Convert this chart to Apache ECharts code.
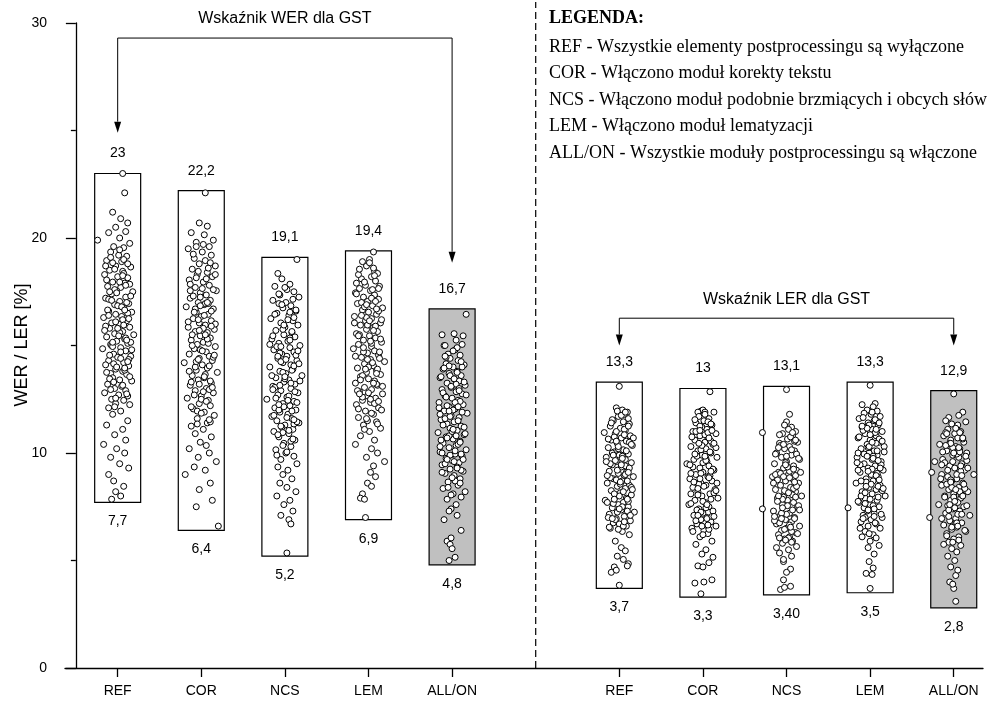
<!DOCTYPE html>
<html>
<head>
<meta charset="utf-8">
<script src="https://cdn.jsdelivr.net/npm/echarts@6/dist/echarts.min.js"></script>
<style>
  html, body { margin: 0; padding: 0; background: #fff; }
  #chart { width: 993px; height: 704px; }
</style>
</head>
<body>
<div id="chart"></div>
<script>
// Variants of the post-processing pipeline
const categories = ['REF', 'COR', 'NCS', 'LEM', 'ALL/ON'];

// Axis positions of the two groups (WER on the left, LER on the right)
const werPos = [0.5, 1.5, 2.5, 3.5, 4.5];
const lerPos = [6.5, 7.5, 8.5, 9.5, 10.5];
const dividerPos = 5.5;

// Range of each variant (min / max)
const werMin = [7.7, 6.4, 5.2, 6.9, 4.8];
const werMax = [23, 22.2, 19.1, 19.4, 16.7];
const lerMin = [3.7, 3.3, 3.4, 3.5, 2.8];
const lerMax = [13.3, 13, 13.1, 13.3, 12.9];
const werMinText = ['7,7', '6,4', '5,2', '6,9', '4,8'];
const werMaxText = ['23', '22,2', '19,1', '19,4', '16,7'];
const lerMinText = ['3,7', '3,3', '3,40', '3,5', '2,8'];
const lerMaxText = ['13,3', '13', '13,1', '13,3', '12,9'];

// Individual results: [horizontal jitter, value]
const werRef = [[.05,23.0],[.07,22.1],[-.05,21.2],[.03,20.9],[.10,20.7],[-.02,20.5],[.08,20.3],[-.09,20.25],[.02,20.0],[-.2,19.9],
[.12,19.75],[-.04,19.6],[.06,19.55],[-.07,19.35],[.01,19.2],[.09,19.15],[-.11,18.95],[.04,18.9],[-.02,18.7],[.13,18.65],
[-.08,18.5],[.05,18.45],[-.13,18.3],[0,18.2],[.10,18.15],[-.05,17.95],[.07,17.9],[-.10,17.75],[.03,17.7],[-.01,17.55],
[.15,17.5],[-.06,17.4],[.08,17.25],[-.12,17.2],[.02,17.05],[.11,16.95],[-.03,16.9],[.06,16.75],[-.09,16.6],[.14,16.55],
[-.02,16.45],[.04,16.35],[-.14,16.3],[.09,16.15],[-.06,16.05],[.01,16.0],[.12,15.85],[-.08,15.8],[.05,15.65],[-.03,15.55],
[.16,15.5],[-.11,15.4],[.07,15.3],[-.01,15.2],[.10,15.1],[-.07,15.05],[.03,14.9],[-.15,14.85],[.08,14.75],[-.04,14.6],
[.13,14.5],[0,14.45],[-.09,14.3],[.06,14.2],[-.12,14.1],[.11,14.05],[-.02,13.9],[.05,13.8],[-.07,13.7],[.09,13.65],
[-.05,13.5],[.02,13.4],[.14,13.35],[-.10,13.2],[.04,13.1],[-.03,13.0],[.08,12.9],[-.13,12.8],[.01,12.7],[.10,12.65],
[-.06,12.5],[.06,12.45],[-.02,12.3],[.12,12.25],[-.09,12.1],[.03,11.95],[-.05,11.8],[.10,11.5],[-.11,11.3],[.05,11.1],
[-.03,10.85],[.08,10.6],[-.14,10.4],[-.01,10.2],[.07,10.0],[-.07,9.8],[.02,9.5],[.11,9.3],[-.09,9.0],[-.04,8.7],
[.06,8.45],[-.02,8.2],[.03,8.0],[-.06,7.85],
[.06,18.35],[.12,17.85],[-.03,17.6],[-.09,17.15],[0,16.85],[.10,16.5],[.05,16.2],[-.12,15.9],[.02,15.6],[.08,15.35],
[-.06,15.0],[.03,14.7],[.11,14.35],[-.04,14.15],[.07,13.85],[-.08,13.45],[-.10,16.65],[.13,15.15],[.09,17.0],[-.05,18.85],
[.02,19.45],[-.07,19.1],[.10,18.8],[-.03,18.55],[.05,18.25],[-.11,18.05],[.08,17.8],[-.01,17.45],[.13,17.3],[-.06,17.1],
[.04,16.8],[-.09,16.4],[.11,16.25],[-.02,16.1],[.06,15.95],[-.13,15.7],[.01,15.45],[.09,15.25],[-.05,14.95],[.14,14.8],
[-.08,14.55],[.03,14.4],[-.01,14.0],[.07,13.95],[-.11,13.75],[.12,13.55],[-.04,13.3],[.05,13.15],[-.07,12.95],[.09,12.75],
[-.02,12.55],[.02,17.95],[-.12,18.7],[.07,16.65],[-.05,15.15],[.10,14.25],[0,15.8],[-.08,17.5],[.06,19.0],[-.03,12.15]];

const werCor = [[.04,22.1],[-.02,20.7],[.06,20.55],[-.10,20.25],[.03,20.15],[.12,19.9],[-.05,19.8],[.08,19.6],[-.13,19.5],[.01,19.35],
[.10,19.2],[-.07,19.05],[.04,18.95],[-.02,18.8],[.14,18.7],[-.09,18.55],[.06,18.4],[-.04,18.3],[.11,18.2],[-.12,18.05],
[.02,17.95],[.08,17.8],[-.06,17.7],[.15,17.55],[-.01,17.45],[.05,17.35],[-.11,17.2],[.09,17.1],[-.03,17.0],[.03,16.9],
[-.15,16.8],[.12,16.7],[-.05,16.55],[.07,16.45],[0,16.35],[-.08,16.25],[.10,16.15],[-.02,16.05],[.04,15.95],[-.13,15.85],
[.13,15.75],[-.06,15.65],[.06,15.6],[-.01,15.45],[.09,15.35],[-.10,15.25],[.02,15.15],[-.04,15.05],[.14,14.95],[-.07,14.85],
[.05,14.7],[-.12,14.6],[.08,14.5],[-.02,14.4],[.11,14.3],[-.17,14.2],[.01,14.1],[.06,13.95],[-.05,13.85],[.16,13.75],
[-.09,13.6],[.03,13.5],[-.03,13.4],[.10,13.25],[-.11,13.15],[.05,13.0],[-.06,12.9],[.12,12.8],[0,12.65],[-.14,12.55],
[.07,12.45],[-.02,12.3],[.09,12.2],[-.08,12.05],[.03,11.9],[.13,11.75],[-.04,11.6],[.06,11.4],[-.10,11.25],[.02,11.1],
[-.06,10.9],[.10,10.75],[-.01,10.5],[.05,10.35],[-.12,10.2],[.08,10.0],[-.03,9.8],[.15,9.6],[-.07,9.35],[.04,9.2],
[-.16,9.0],[.09,8.6],[-.02,8.3],[.11,7.8],[-.05,7.5],[.17,6.6],
[.07,18.6],[-.05,18.15],[.01,17.65],[-.08,17.3],[.04,16.95],[.10,16.6],[-.03,16.2],[.02,15.8],[-.09,15.5],[.07,15.1],
[-.01,14.8],[.12,14.45],[-.06,14.0],[.04,13.65],[-.10,13.3],[.08,12.95],[0,12.5],[-.04,11.95],[.09,11.45],[.14,16.0],
[.02,19.7],[-.08,19.25],[.09,18.85],[-.03,18.45],[.05,18.1],[-.11,17.85],[.12,17.6],[-.01,17.25],[.07,16.95],[-.06,16.7],
[.03,16.4],[-.13,16.1],[.10,15.9],[-.02,15.7],[.06,15.3],[-.09,15.0],[.01,14.75],[.13,14.55],[-.05,14.25],[.08,14.05],
[-.12,13.8],[.03,13.55],[-.02,13.2],[.11,13.05],[-.07,12.7],[.05,12.4],[-.10,12.15],[0,11.85],[.08,11.55],[-.04,11.35],
[.14,18.3],[-.07,16.55],[.04,15.5],[-.03,14.35],[.09,13.35],[-.11,17.55],[.02,12.85],[-.05,19.6],[.06,17.0],[-.01,16.85]];

const werNcs = [[.12,19.0],[-.07,18.35],[-.03,18.1],[.05,17.85],[-.10,17.75],[.02,17.6],[.09,17.5],[-.05,17.35],[.14,17.25],[-.12,17.1],
[.01,17.0],[.06,16.85],[-.02,16.75],[.11,16.6],[-.08,16.5],[.04,16.4],[-.14,16.25],[.08,16.15],[-.04,16.05],[.13,15.95],
[0,15.85],[-.09,15.7],[.07,15.6],[-.01,15.5],[.10,15.4],[-.13,15.3],[.03,15.2],[-.06,15.1],[.15,15.0],[.05,14.9],
[-.11,14.8],[.09,14.7],[-.03,14.6],[.02,14.5],[-.07,14.4],[.12,14.3],[-.02,14.2],[.06,14.1],[-.15,14.0],[.08,13.9],
[-.05,13.8],[.01,13.7],[.17,13.6],[-.09,13.5],[.04,13.4],[-.01,13.3],[.10,13.2],[-.12,13.1],[.06,13.0],[-.04,12.9],
[.13,12.8],[-.07,12.7],[.02,12.6],[-.18,12.5],[.09,12.4],[-.02,12.3],[.05,12.2],[-.10,12.1],[.11,12.0],[-.05,11.9],
[.03,11.8],[-.13,11.7],[.07,11.6],[-.08,11.5],[.14,11.4],[0,11.3],[-.03,11.2],[.08,11.1],[-.11,11.0],[.04,10.9],
[-.06,10.75],[.10,10.6],[-.01,10.45],[.06,10.3],[-.09,10.15],[.01,10.0],[.09,9.85],[-.04,9.7],[.12,9.5],[-.07,9.35],
[.03,9.2],[-.02,9.0],[.07,8.8],[-.05,8.6],[.02,8.4],[.11,8.2],[-.08,8.0],[.05,7.8],[-.01,7.6],[.08,7.3],
[-.04,7.1],[.04,6.9],[.06,6.7],[.02,5.35],
[-.06,16.95],[.09,16.3],[-.02,15.75],[.05,15.35],[-.08,14.95],[.11,14.55],[-.04,14.25],[.07,13.85],[0,13.45],[-.10,13.05],
[.04,12.65],[.12,12.35],[-.06,12.0],[.02,11.65],[.09,11.35],[-.02,10.95],[.06,10.55],[-.12,12.95],[.15,13.35],[-.05,14.65],
[0,17.7],[-.06,17.4],[.08,17.15],[-.03,16.9],[.11,16.65],[-.10,16.45],[.03,16.2],[-.01,15.95],[.07,15.65],[-.12,15.45],
[.05,15.25],[-.04,14.95],[.13,14.75],[-.07,14.5],[.01,14.35],[.09,14.05],[-.02,13.75],[-.13,13.6],[.06,13.25],[-.05,13.15],
[.10,12.85],[-.09,12.55],[.03,12.45],[-.01,12.15],[.07,11.95],[-.11,11.75],[.12,11.45],[-.04,11.25],[.04,11.05],[-.07,10.85],
[.08,10.65],[-.02,10.35],[.02,10.05],[-.08,9.9],[.05,16.55],[-.15,15.05],[.14,14.15],[0,13.55],[-.06,12.25],[.09,11.55]];

const werLem = [[.05,19.35],[.01,19.0],[-.02,18.7],[.06,18.45],[.09,18.35],[.03,18.2],[-.07,18.1],[.07,18.0],[-.12,17.9],[-.03,17.8],
[.11,17.75],[-.09,17.65],[.02,17.55],[-.13,17.45],[.06,17.35],[-.05,17.25],[.10,17.15],[-.01,17.05],[-.11,16.95],[.04,16.85],
[.14,16.75],[-.06,16.65],[0,16.55],[.08,16.45],[-.14,16.35],[.03,16.25],[-.03,16.15],[.12,16.05],[-.08,15.95],[.05,15.85],
[-.02,15.75],[.09,15.65],[-.12,15.55],[.01,15.45],[.07,15.35],[-.05,15.25],[.13,15.15],[-.10,15.05],[.03,14.95],[-.15,14.85],
[.06,14.75],[-.01,14.65],[.10,14.55],[-.07,14.45],[.02,14.35],[.16,14.25],[-.04,14.15],[.05,14.05],[-.11,13.95],[.08,13.85],
[-.02,13.75],[.12,13.65],[-.08,13.55],[0,13.45],[.06,13.35],[-.13,13.25],[.09,13.15],[-.04,13.05],[.03,12.95],[-.09,12.85],
[.14,12.75],[-.01,12.65],[.07,12.55],[-.06,12.45],[.02,12.35],[-.12,12.25],[.10,12.1],[-.03,11.95],[.05,11.8],[-.10,11.65],
[.08,11.45],[-.05,11.3],[.12,11.15],[.01,11.0],[-.08,10.8],[.06,10.6],[-.13,10.4],[.03,10.2],[.09,10.0],[-.02,9.8],
[.16,9.6],[.05,9.4],[.02,9.1],[.07,8.9],[-.01,8.6],[.03,8.45],[-.06,8.1],[-.08,7.9],[-.04,7.85],[-.03,7.0],
[.04,17.6],[-.07,17.0],[.10,16.6],[-.02,16.3],[.07,15.9],[-.09,15.5],[.03,15.1],[-.05,14.7],[.11,14.4],[0,14.0],
[-.06,13.6],[.08,13.2],[-.11,12.9],[.02,12.5],[.13,12.0],[-.04,16.8],[.05,18.6],[-.10,18.3],[.09,13.9],[-.01,11.5],
[.01,18.85],[-.09,18.55],[.06,18.25],[-.04,17.95],[.10,17.65],[-.12,17.4],[.03,17.2],[-.02,16.9],[.08,16.7],[-.07,16.4],
[.13,16.2],[-.01,15.95],[.05,15.7],[-.10,15.45],[.02,15.2],[-.05,14.9],[.11,14.7],[-.13,14.5],[.04,14.2],[-.03,13.9],
[.08,13.7],[-.08,13.4],[.14,13.1],[0,12.8],[-.06,12.6],[.06,12.3],[-.10,12.05],[.03,11.85],[-.02,11.6],[.09,11.35],
[-.04,11.1],[.07,17.05],[-.14,16.05],[.12,15.3],[-.01,14.35],[.05,13.25],[-.09,12.75],[.01,16.15],[-.06,18.9],[.10,12.4]];

const werAll = [[.14,16.45],[-.10,15.5],[.02,15.55],[.11,15.45],[.04,15.25],[-.08,15.0],[-.07,15.0],[.10,15.05],[.03,14.8],[-.04,14.6],
[.08,14.55],[-.02,14.4],[.06,14.3],[-.06,14.15],[.12,14.1],[.01,14.0],[-.09,13.9],[.05,13.8],[-.03,13.7],[.09,13.6],
[-.12,13.5],[.02,13.45],[.07,13.35],[-.05,13.25],[.13,13.15],[-.01,13.05],[-.10,12.95],[.04,12.85],[.10,12.75],[-.07,12.65],
[0,12.55],[.06,12.45],[-.13,12.35],[.11,12.25],[-.03,12.15],[.03,12.05],[-.08,11.95],[.15,11.85],[-.01,11.75],[.07,11.65],
[-.11,11.55],[.02,11.45],[-.05,11.35],[.09,11.25],[-.02,11.15],[.05,11.05],[-.14,10.95],[.12,10.85],[-.06,10.75],[.01,10.65],
[.08,10.55],[-.09,10.45],[.04,10.35],[-.03,10.25],[.14,10.15],[-.12,10.05],[.03,9.95],[.10,9.85],[-.06,9.75],[0,9.65],
[.07,9.55],[-.10,9.45],[.05,9.35],[-.02,9.25],[.11,9.15],[-.07,9.05],[.02,8.95],[.08,8.8],[-.04,8.65],[.06,8.5],
[-.09,8.35],[.13,8.2],[.01,8.1],[.09,7.95],[-.05,7.85],[.04,7.6],[-.01,7.4],[-.03,7.3],[.05,7.1],[-.08,6.9],
[.09,6.4],[-.05,5.9],[-.02,5.75],[-.01,6.05],[0,5.55],[-.03,5.0],[.03,5.15],
[.05,14.9],[-.06,14.45],[.10,14.0],[-.02,13.6],[.04,13.2],[-.09,12.8],[.08,12.4],[.01,12.0],[-.07,11.6],[.12,11.2],
[-.03,10.8],[.06,10.4],[-.10,10.0],[.02,9.6],[.09,9.2],[-.05,12.2],[0,11.0],[.07,13.0],[-.12,11.8],[.03,8.7],
[.01,14.75],[-.07,14.5],[.09,14.25],[-.03,14.05],[.05,13.75],[-.11,13.55],[.12,13.3],[-.01,13.1],[.07,12.9],[-.06,12.6],
[.03,12.35],[-.13,12.1],[.10,11.9],[-.02,11.7],[.06,11.5],[-.09,11.3],[.01,11.1],[.13,10.9],[-.05,10.7],[.08,10.5],
[-.12,10.3],[.03,10.1],[-.02,9.9],[.11,9.7],[-.07,9.5],[.05,9.3],[-.10,9.1],[0,8.85],[.08,8.6],[-.04,8.4],
[.14,12.7],[-.08,13.95],[.04,10.8],[-.03,11.95],[.09,9.95],[-.11,10.6],[.02,13.45],[-.05,9.7],[.06,12.15],[-.01,8.05]];

const lerRef = [[0,13.1],[-.03,12.1],[.03,12.0],[.08,11.9],[.05,11.8],[-.01,11.7],[.09,11.6],[-.06,11.5],[.04,11.45],[.10,11.35],
[-.09,11.25],[.01,11.15],[.06,11.05],[-.15,10.95],[-.04,10.9],[.11,10.8],[.02,10.7],[-.08,10.6],[.07,10.55],[-.02,10.45],
[.13,10.35],[-.11,10.25],[.04,10.15],[-.05,10.05],[.09,9.95],[0,9.9],[-.13,9.8],[.06,9.7],[-.03,9.6],[.12,9.55],
[-.07,9.45],[.02,9.35],[.08,9.25],[-.10,9.15],[-.01,9.05],[.05,8.95],[.14,8.9],[-.06,8.8],[.03,8.7],[-.12,8.6],
[.10,8.5],[-.02,8.45],[.06,8.35],[-.08,8.25],[.01,8.15],[.12,8.05],[-.04,7.95],[.07,7.9],[-.14,7.8],[.04,7.7],
[-.01,7.6],[.09,7.5],[-.07,7.45],[.02,7.35],[.15,7.25],[-.10,7.15],[.05,7.05],[-.03,6.95],[.11,6.85],[-.06,6.75],
[0,6.7],[.07,6.6],[-.09,6.5],[.03,6.35],[.10,6.2],[-.04,5.9],[.02,5.6],[.06,5.45],[-.02,5.2],[.04,5.05],
[-.05,4.7],[.09,4.85],[.08,4.75],[-.08,4.45],[-.03,4.55],[0,3.85],
[.05,11.1],[-.05,10.75],[.10,10.5],[-.01,10.2],[.03,9.85],[-.09,9.5],[.07,9.1],[-.03,8.75],[.12,8.4],[0,8.0],
[-.06,7.65],[.08,7.3],[-.11,7.0],[.04,6.6],[-.02,11.95],[.06,9.4],[-.07,10.0],[.01,8.55],[.09,7.75],[-.04,6.9],
[.02,11.75],[-.07,11.55],[.09,11.25],[-.03,11.0],[.05,10.85],[-.11,10.65],[.12,10.4],[-.01,10.3],[.07,10.1],[-.06,9.9],
[.03,9.75],[-.13,9.6],[.10,9.3],[-.02,9.2],[.06,9.0],[-.09,8.85],[.01,8.65],[.13,8.3],[-.05,8.1],[.08,7.85],
[-.12,7.7],[.03,7.5],[-.02,7.25],[.11,7.1],[-.07,6.95],[.05,6.8],[-.10,6.55],[0,7.4],[.08,8.7],[-.04,9.65],
[.14,10.7],[-.08,11.4],[.04,8.2],[-.03,10.55],[.09,9.1],[-.01,6.45],[.06,11.9],[-.05,7.85],[.02,9.45],[-.12,8.95]];

const lerCor = [[.07,12.85],[-.02,11.95],[0,12.0],[.02,11.9],[-.05,11.9],[.11,11.9],[-.04,11.7],[.06,11.6],[.01,11.5],[-.07,11.4],
[.09,11.3],[-.01,11.2],[.04,11.1],[-.10,11.0],[.13,10.9],[-.03,10.8],[.05,10.7],[-.08,10.6],[.02,10.5],[.10,10.4],
[-.12,10.3],[.03,10.2],[-.05,10.1],[.08,10.0],[-.01,9.9],[.14,9.8],[-.09,9.7],[.04,9.6],[-.16,9.5],[.06,9.4],
[-.03,9.3],[.11,9.2],[0,9.1],[-.07,9.0],[.05,8.9],[-.13,8.8],[.09,8.7],[-.02,8.6],[.03,8.5],[-.10,8.4],
[.12,8.3],[-.05,8.2],[.07,8.1],[-.01,8.0],[.15,7.9],[-.08,7.8],[.02,7.7],[-.14,7.6],[.06,7.5],[-.04,7.4],
[.10,7.3],[0,7.2],[-.09,7.1],[.04,7.0],[-.02,6.9],[.08,6.8],[-.06,6.7],[.13,6.6],[-.11,6.5],[.01,6.4],
[.05,6.25],[-.03,6.1],[.09,5.9],[-.07,5.75],[.03,5.5],[-.01,5.3],[.10,5.15],[-.05,4.75],[0,4.7],[.06,4.9],
[-.08,3.95],[.01,4.0],[.09,4.1],[-.02,3.45],
[.05,11.45],[-.07,11.0],[.08,10.55],[-.02,10.15],[.03,9.75],[-.10,9.35],[.07,8.95],[-.04,8.55],[.11,8.15],[0,7.75],
[-.06,7.35],[.04,6.95],[-.12,9.05],[.02,10.85],[.09,7.05],[-.05,8.35],[.13,10.25],[.06,6.45],[-.03,11.25],[0,9.55],
[.02,11.8],[-.08,11.55],[.08,11.35],[-.03,11.05],[.05,10.95],[-.11,10.75],[.11,10.45],[-.01,10.35],[.07,10.05],[-.06,9.85],
[.03,9.65],[-.13,9.45],[.10,9.25],[-.02,9.05],[.06,8.85],[-.09,8.65],[.01,8.45],[.13,8.25],[-.05,8.05],[.08,7.85],
[-.12,7.65],[.03,7.45],[-.02,7.25],[.11,7.05],[-.07,6.85],[.05,6.65],[-.10,6.35],[0,6.2],[.08,9.15],[-.04,10.45],
[.14,8.6],[-.08,9.95],[.04,7.6],[-.03,8.8],[.09,11.05],[-.01,6.6],[.06,10.7],[-.05,7.1],[.02,9.85],[-.12,8.1]];

const lerNcs = [[0,12.95],[.03,11.8],[0,11.45],[-.02,11.3],[.05,11.2],[.09,11.0],[-.24,10.95],[-.04,10.9],[.06,10.8],[.01,10.65],
[.11,10.5],[-.07,10.45],[.03,10.3],[-.02,10.2],[.08,10.1],[-.10,10.0],[.05,9.9],[-.05,9.8],[.13,9.7],[0,9.6],
[-.12,9.5],[.07,9.4],[-.03,9.3],[.10,9.2],[-.08,9.1],[.02,9.0],[-.14,8.9],[.06,8.8],[-.01,8.7],[.12,8.6],
[-.06,8.5],[.04,8.4],[-.11,8.3],[.09,8.2],[-.02,8.1],[.15,8.0],[-.09,7.9],[.01,7.8],[.07,7.7],[-.04,7.6],
[-.24,7.4],[.11,7.5],[-.13,7.3],[.03,7.2],[-.06,7.1],[.08,7.0],[-.01,6.9],[.05,6.8],[-.10,6.7],[.13,6.6],
[0,6.5],[-.05,6.4],[.09,6.3],[-.08,6.2],[.03,6.1],[-.02,6.0],[.06,5.9],[-.04,5.8],[.10,5.65],[.02,5.5],
[-.07,5.35],[.05,5.2],[-.03,4.95],[-.03,5.05],[.04,4.6],[0,4.45],[-.03,4.1],[-.06,3.65],[-.02,3.75],[.04,3.8],
[.04,10.75],[-.06,10.35],[.10,9.95],[-.01,9.55],[.03,9.15],[-.09,8.75],[.07,8.35],[-.03,7.95],[.12,7.55],[0,7.15],
[-.07,6.75],[.05,6.35],[-.11,9.0],[.08,10.55],[-.04,7.85],[.02,6.05],[.09,8.95],[-.08,8.0],[.01,9.35],[.06,7.35],
[.02,11.1],[-.07,10.85],[.09,10.6],[-.03,10.4],[.05,10.15],[-.11,9.95],[.12,9.75],[-.01,9.45],[.07,9.25],[-.06,9.05],
[.03,8.85],[-.13,8.6],[.10,8.45],[-.02,8.25],[.06,8.05],[-.09,7.75],[.01,7.55],[.13,7.35],[-.05,7.2],[.08,6.95],
[-.12,6.85],[.03,6.65],[-.02,6.45],[.11,6.25],[-.07,6.05],[.05,5.85],[-.10,5.6],[0,9.85],[.08,8.65],[-.04,7.45],
[.14,9.1],[-.08,10.25],[.04,6.55],[-.03,8.9],[.09,7.95],[-.01,5.95],[.06,10.95],[-.05,6.95],[.02,8.15],[-.12,7.05]];

const lerLem = [[0,13.15],[-.08,12.25],[.05,12.3],[.03,12.15],[-.03,12.0],[.07,11.95],[-.06,11.85],[.01,11.8],[.10,11.7],[-.11,11.6],
[.04,11.5],[-.02,11.4],[.08,11.3],[-.08,11.2],[.02,11.1],[.12,11.0],[-.05,10.9],[.06,10.8],[-.12,10.7],[0,10.6],
[.09,10.5],[-.03,10.4],[.14,10.3],[-.09,10.2],[.04,10.1],[-.01,10.0],[.07,9.9],[-.13,9.8],[.02,9.7],[.11,9.6],
[-.06,9.5],[.05,9.4],[-.02,9.3],[.13,9.2],[-.10,9.1],[.01,9.0],[.08,8.9],[-.04,8.8],[.03,8.7],[-.14,8.6],
[.10,8.5],[-.01,8.4],[.06,8.3],[-.08,8.2],[.02,8.1],[.15,8.0],[-.05,7.9],[.07,7.8],[-.11,7.7],[0,7.6],
[-.22,7.45],[.09,7.5],[-.03,7.3],[.04,7.2],[-.07,7.1],[.12,7.0],[.01,6.9],[-.09,6.8],[.06,6.7],[-.02,6.6],
[.10,6.5],[-.05,6.35],[.03,6.2],[-.08,6.1],[.06,6.05],[0,5.9],[-.02,5.6],[.09,5.7],[.04,5.3],[-.01,4.95],
[.03,4.65],[-.04,4.4],[.02,4.35],[0,3.7],
[.05,11.55],[-.07,11.05],[.09,10.65],[-.02,10.25],[.03,9.85],[-.10,9.45],[.07,9.05],[-.04,8.65],[.12,8.25],[0,7.85],
[-.06,7.45],[.04,7.05],[-.12,10.0],[.08,8.45],[-.01,11.3],[.11,9.45],[-.05,7.0],[.02,9.25],[-.09,8.0],[.06,10.45],
[.02,11.9],[-.07,11.65],[.09,11.4],[-.03,11.15],[.05,10.95],[-.11,10.75],[.12,10.55],[-.01,10.3],[.07,10.1],[-.06,9.95],
[.03,9.75],[-.13,9.55],[.10,9.3],[-.02,9.15],[.06,8.95],[-.09,8.7],[.01,8.55],[.13,8.35],[-.05,8.15],[.08,7.95],
[-.12,7.75],[.03,7.55],[-.02,7.35],[.11,7.15],[-.07,6.95],[.05,6.75],[-.10,6.5],[0,10.85],[.08,9.65],[-.04,8.45],
[.14,10.05],[-.08,11.25],[.04,7.4],[-.03,9.85],[.09,8.75],[-.01,6.25],[.06,11.1],[-.05,7.65],[.02,10.5],[-.12,9.2]];

const lerAll = [[0,12.75],[.09,11.9],[-.05,11.65],[.05,11.75],[-.08,11.5],[.12,11.45],[-.02,11.35],[.03,11.2],[-.06,11.1],[.07,11.0],
[.01,10.9],[-.10,10.8],[.04,10.7],[-.03,10.6],[.10,10.5],[-.14,10.4],[.02,10.3],[.06,10.2],[-.07,10.1],[.13,10.0],
[-.01,9.9],[-.19,9.6],[.05,9.8],[-.11,9.7],[.08,9.5],[-.04,9.4],[.20,9.0],[.01,9.3],[-.22,9.1],[.11,9.2],
[-.06,8.9],[.03,8.8],[-.02,8.7],[.09,8.6],[-.12,8.5],[.05,8.4],[-.05,8.3],[.14,8.2],[0,8.1],[-.09,8.0],
[.07,7.9],[-.03,7.8],[.04,7.7],[-.15,7.6],[.10,7.5],[-.01,7.4],[.06,7.3],[-.08,7.2],[.16,7.1],[-.24,7.0],
[.02,6.95],[-.04,6.85],[.08,6.75],[-.10,6.65],[.03,6.55],[-.02,6.45],[.12,6.35],[-.07,6.25],[.05,6.1],[0,6.0],
[-.05,5.85],[.07,5.7],[-.02,5.55],[.03,5.4],[-.06,5.2],[.01,5.0],[-.03,4.7],[.04,4.55],[.02,4.3],[-.04,4.0],
[0,3.7],[-.01,3.9],[.02,3.1],
[.04,11.3],[-.08,10.95],[.09,10.65],[-.01,10.25],[.03,9.95],[-.09,9.55],[.07,9.15],[-.03,8.75],[.11,8.35],[0,7.95],
[-.06,7.55],[.04,7.15],[-.12,9.0],[.08,8.05],[-.04,10.45],[.02,6.7],[.13,9.65],[-.07,8.55],[.01,7.45],[.06,10.05],
[.02,11.15],[-.07,10.9],[.09,10.7],[-.03,10.45],[.05,10.25],[-.11,10.05],[.12,9.85],[-.01,9.6],[.07,9.4],[-.06,9.2],
[.03,9.0],[-.13,8.8],[.10,8.55],[-.02,8.4],[.06,8.2],[-.09,7.95],[.01,7.75],[.13,7.55],[-.05,7.35],[.08,7.15],
[-.12,6.95],[.03,6.75],[-.02,6.55],[.11,6.4],[-.07,6.15],[.05,5.95],[-.10,5.75],[0,10.0],[.08,8.95],[-.04,7.6],
[.14,9.3],[-.08,10.35],[.04,6.6],[-.03,8.65],[.09,8.0],[-.01,5.85],[.06,10.95],[-.05,7.05],[.02,8.3],[-.12,9.45]];

const werPoints = [werRef, werCor, werNcs, werLem, werAll];
const lerPoints = [lerRef, lerCor, lerNcs, lerLem, lerAll];

// Bracket annotations: [from, to, level, tip at from, tip at to]
const bracketTitles = ['Wskaźnik WER dla GST', 'Wskaźnik LER dla GST'];
const bracketSpans = [[0.5, 4.5, 29.3, 24.9, 18.85], [6.5, 10.5, 16.27, 15.0, 15.0]];

const yAxisTitle = 'WER / LER [%]';
const legendTitle = 'LEGENDA:';
const legendLines = [
  'REF - Wszystkie elementy postprocessingu są wyłączone',
  'COR - Włączono moduł korekty tekstu',
  'NCS - Włączono moduł podobnie brzmiących i obcych słów',
  'LEM - Włączono moduł lematyzacji',
  'ALL/ON - Wszystkie moduły postprocessingu są włączone'
];

const SANS = '"Liberation Sans", Arial, sans-serif';
const SERIF = '"Liberation Serif", "Times New Roman", serif';
const BOX_W = 0.55;        // box width in axis units
const JITTER_SPREAD = 1.2; // horizontal spread of the point clouds

// Build boxes and points
const boxes = [];
const points = [];
function addGroup(pos, mins, maxs, minText, maxText, pts) {
  pos.forEach((x, i) => {
    boxes.push({ x: x, lo: mins[i], hi: maxs[i], loText: minText[i], hiText: maxText[i], grey: i === 4 });
    pts[i].forEach(p => points.push([x + p[0] * JITTER_SPREAD, p[1]]));
  });
}
addGroup(werPos, werMin, werMax, werMinText, werMaxText, werPoints);
addGroup(lerPos, lerMin, lerMax, lerMinText, lerMaxText, lerPoints);

const tickPos = werPos.concat(lerPos);

const chart = echarts.init(document.getElementById('chart'), null, { renderer: 'canvas' });

chart.setOption({
  animation: false,
  backgroundColor: '#fff',
  textStyle: { fontFamily: SANS },
  grid: { left: 65, right: 10, top: 23, bottom: 36 },
  xAxis: {
    type: 'value',
    min: -0.13,
    max: 10.85,
    axisLine: { onZero: true, lineStyle: { color: '#000', width: 1.3 } },
    axisTick: { customValues: tickPos, length: 9, lineStyle: { color: '#000', width: 1.3 } },
    axisLabel: {
      customValues: tickPos,
      margin: 16,
      fontSize: 14,
      color: '#000',
      fontFamily: SANS,
      formatter: v => {
        const i = tickPos.findIndex(p => Math.abs(p - v) < 1e-6);
        return i < 0 ? '' : categories[i % 5];
      }
    },
    splitLine: { show: false }
  },
  yAxis: {
    type: 'value',
    min: 0,
    max: 30,
    interval: 10,
    axisLine: { show: true, onZero: true, lineStyle: { color: '#000', width: 1.3 } },
    axisTick: { show: true, length: 10, lineStyle: { color: '#000', width: 1.3 } },
    minorTick: { show: true, splitNumber: 2, length: 5, lineStyle: { color: '#000', width: 1.3 } },
    axisLabel: { margin: 18, fontSize: 14, color: '#000', fontFamily: SANS },
    splitLine: { show: false }
  },
  graphic: [
    {
      type: 'text', x: 22, y: 345, rotation: Math.PI / 2,
      style: { text: yAxisTitle, font: '18px ' + SANS, fill: '#000', align: 'center', verticalAlign: 'middle' }
    },
    { type: 'text', left: 549, top: 9, style: { text: legendTitle, font: 'bold 18px ' + SERIF, fill: '#000' } }
  ].concat(legendLines.map((t, i) => ({
    type: 'text', left: 549, top: 38 + i * 26.5,
    style: { text: t, font: '18px ' + SERIF, fill: '#000' }
  }))),
  series: [
    {
      // min-max boxes with their value labels
      type: 'custom',
      z: 2,
      silent: true,
      data: boxes.map(b => [b.x, b.lo, b.hi]),
      renderItem: (params, api) => {
        const b = boxes[params.dataIndex];
        const top = api.coord([b.x, b.hi]);
        const bot = api.coord([b.x, b.lo]);
        const w = api.size([BOX_W, 0])[0];
        return {
          type: 'group',
          children: [
            {
              type: 'rect',
              shape: { x: top[0] - w / 2, y: top[1], width: w, height: bot[1] - top[1] },
              style: { fill: b.grey ? '#c0c0c0' : '#fff', stroke: '#000', lineWidth: 1.2 }
            },
            {
              type: 'text',
              style: { text: b.hiText, x: top[0], y: top[1] - 13, align: 'center', verticalAlign: 'bottom', fill: '#000', font: '14px ' + SANS }
            },
            {
              type: 'text',
              style: { text: b.loText, x: bot[0], y: bot[1] + 12, align: 'center', verticalAlign: 'top', fill: '#000', font: '14px ' + SANS }
            }
          ]
        };
      }
    },
    {
      // individual results
      type: 'scatter',
      z: 3,
      silent: true,
      symbol: 'circle',
      symbolSize: 6,
      itemStyle: { color: '#fff', borderColor: '#000', borderWidth: 1, opacity: 1 },
      data: points
    },
    {
      // divider between the WER and LER groups
      type: 'custom',
      z: 4,
      silent: true,
      data: [[dividerPos, 0]],
      renderItem: (params, api) => {
        const p = api.coord([dividerPos, 0]);
        return {
          type: 'line',
          shape: { x1: p[0], y1: p[1], x2: p[0], y2: 2 },
          style: { stroke: '#000', lineWidth: 1.2, lineDash: [7, 4] }
        };
      }
    },
    {
      // bracket arrows with titles
      type: 'custom',
      z: 4,
      silent: true,
      data: bracketSpans.map(s => s),
      renderItem: (params, api) => {
        const s = bracketSpans[params.dataIndex];
        const a = api.coord([s[0], s[3]]);
        const pa = api.coord([s[0], s[2]]);
        const pb = api.coord([s[1], s[2]]);
        const b = api.coord([s[1], s[4]]);
        const head = 11, hw = 3.5;
        return {
          type: 'group',
          children: [
            {
              type: 'polyline',
              shape: { points: [[a[0], a[1] - head], pa, pb, [b[0], b[1] - head]] },
              style: { stroke: '#000', lineWidth: 1, fill: null }
            },
            {
              type: 'polygon',
              shape: { points: [[a[0] - hw, a[1] - head], [a[0] + hw, a[1] - head], [a[0], a[1]]] },
              style: { fill: '#000' }
            },
            {
              type: 'polygon',
              shape: { points: [[b[0] - hw, b[1] - head], [b[0] + hw, b[1] - head], [b[0], b[1]]] },
              style: { fill: '#000' }
            },
            {
              type: 'text',
              style: {
                text: bracketTitles[params.dataIndex],
                x: (pa[0] + pb[0]) / 2, y: pa[1] - 11,
                align: 'center', verticalAlign: 'bottom',
                fill: '#000', font: '16px ' + SANS
              }
            }
          ]
        };
      }
    }
  ]
});
</script>
</body>
</html>
